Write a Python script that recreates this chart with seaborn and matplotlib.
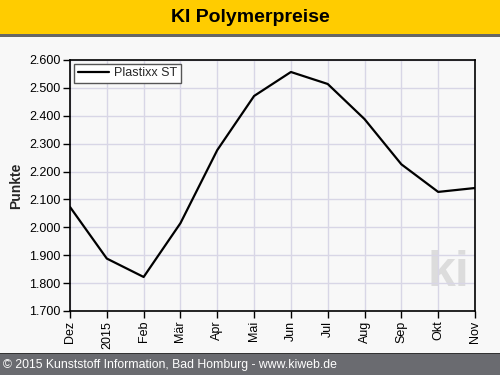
import matplotlib
matplotlib.use("Agg")
import matplotlib.pyplot as plt
import matplotlib.patches as mpatches
from matplotlib.ticker import FuncFormatter
import numpy as np
import pandas as pd
import seaborn as sns

months = ["Dez", "2015", "Feb", "Mär", "Apr", "Mai", "Jun", "Jul", "Aug", "Sep", "Okt", "Nov"]
plastixx_st = [2073, 1888, 1822, 2015, 2277, 2471, 2557, 2514, 2388, 2226, 2127, 2141]
y_ticks = [1700, 1800, 1900, 2000, 2100, 2200, 2300, 2400, 2500, 2600]

sns.set_style("ticks")
plt.rcParams["font.family"] = ["Liberation Sans", "DejaVu Sans"]

df = pd.DataFrame({"pos": np.arange(len(months)), "wert": plastixx_st,
                   "serie": "Plastixx ST"})

fig = plt.figure(figsize=(5.0, 3.75), dpi=100, facecolor="#f8f8f8")

# header / footer bands
fig.patches.append(mpatches.Rectangle((0, 1 - 34 / 375), 1, 34 / 375, transform=fig.transFigure,
                                      facecolor="#ffcc00", edgecolor="none", zorder=0))
fig.patches.append(mpatches.Rectangle((0, 1 - 37 / 375), 1, 3 / 375, transform=fig.transFigure,
                                      facecolor="#666666", edgecolor="none", zorder=0))
fig.patches.append(mpatches.Rectangle((0, 0), 1, 21 / 375, transform=fig.transFigure,
                                      facecolor="#6a6b70", edgecolor="none", zorder=0))
fig.patches.append(mpatches.Rectangle((0, 21 / 375), 1, 1.5 / 375, transform=fig.transFigure,
                                      facecolor="#333333", edgecolor="none", zorder=0))
fig.text(0.5, 1 - 18 / 375, "KI Polymerpreise", ha="center", va="center",
         fontsize=14, fontweight="bold", color="black")
fig.text(0.006, 10 / 375, "© 2015 Kunststoff Information, Bad Homburg - www.kiweb.de",
         ha="left", va="center", fontsize=8.8, color="white")

ax = fig.add_axes([70 / 500, 1 - 311 / 375, 405 / 500, 251 / 375])
ax.set_facecolor("#f8f8f8")

# watermark
ax.text(0.935, 0.06, "ki", transform=ax.transAxes, ha="center", va="bottom",
        fontsize=36, fontweight="bold", color="#dcdcdc", zorder=0)

sns.lineplot(data=df, x="pos", y="wert", hue="serie", palette=["black"],
             linewidth=1.6, ax=ax, zorder=3)

ax.set_xlim(0, len(months) - 1)
ax.set_ylim(1700, 2600)
ax.set_xticks(np.arange(len(months)))
ax.set_xticklabels(months, rotation=90)
ax.set_yticks(y_ticks)
# German thousands separator: 2.600
ax.yaxis.set_major_formatter(FuncFormatter(lambda v, p: f"{int(v):,}".replace(",", ".")))
ax.grid(True, color="#d8d6e6", linewidth=1)
ax.set_axisbelow(True)
for s in ax.spines.values():
    s.set_visible(True)
    s.set_color("black")
    s.set_linewidth(1.2)
ax.tick_params(axis="both", length=5, width=1, labelsize=9, colors="black", pad=2)
ax.set_xlabel("")
ax.set_ylabel("Punkte", fontsize=10, fontweight="bold", labelpad=4)

leg = ax.legend(loc="upper left", frameon=True, fancybox=False, fontsize=9,
                handlelength=2.5, borderpad=0.3, borderaxespad=0.3, handletextpad=0.4)
leg.get_frame().set_edgecolor("#555555")
leg.get_frame().set_facecolor("white")
leg.get_frame().set_linewidth(1)
leg.get_frame().set_alpha(1)

fig.savefig("out.png", dpi=100, facecolor=fig.get_facecolor())
